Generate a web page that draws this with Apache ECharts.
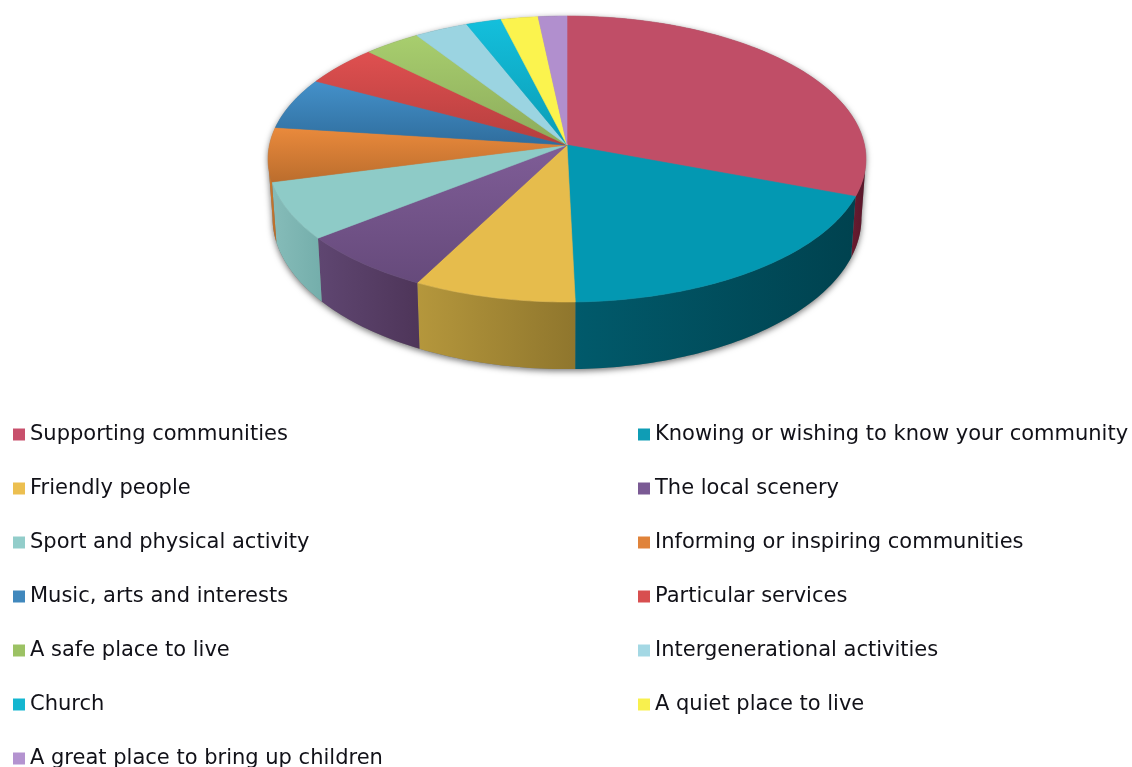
<!DOCTYPE html>
<html>
<head>
<meta charset="utf-8">
<style>html,body{margin:0;padding:0;background:#fff}#chart{width:1132px;height:767px}</style>
<script src="https://cdn.jsdelivr.net/npm/echarts@6/dist/echarts.min.js"></script>
</head>
<body>
<div id="chart"></div>
<script>
// Share of responses per theme, in percent, clockwise from twelve o'clock.
const categories = [
  'Supporting communities', 'Knowing or wishing to know your community',
  'Friendly people', 'The local scenery',
  'Sport and physical activity', 'Informing or inspiring communities',
  'Music, arts and interests', 'Particular services',
  'A safe place to live', 'Intergenerational activities',
  'Church', 'A quiet place to live',
  'A great place to bring up children'
];
const values = [30.7, 18.9, 8.0, 6.8, 6.5, 6.1, 5.8, 4.6, 3.4, 3.2, 2.1, 2.2, 1.7];

// Top face colours: upper and lower ends of each slice's vertical ramp.
const topStart = ['#c04e67', '#0398b2', '#e6bc4c', '#7f5d97', '#8ecbc7', '#ea8a3c', '#4491ca', '#df5050', '#a8ce6e', '#9bd4e1', '#14bfdc', '#fbf34e', '#b18fce'];
const topEnd   = ['#c04e67', '#0398b2', '#e6bc4c', '#664a7b', '#8ecbc7', '#bb6d2d', '#2f6d9d', '#b53e3e', '#8cab5b', '#9bd4e1', '#0a9cb5', '#fbf34e', '#b18fce'];
// Side wall colours: left and right ends of each visible wall.
const wallLeft  = ['#6a1c30', '#015a6b', '#b5973c', '#5f4671', '#86bcb9', '#cf7c30', '#2f6d9d', '#b53e3e', '#8cab5b', '#9bd4e1', '#0a9cb5', '#fbf34e', '#b18fce'];
const wallRight = ['#56162a', '#00424f', '#8f762d', '#4e3559', '#74aeab', '#b86c29', '#2f6d9d', '#b53e3e', '#8cab5b', '#9bd4e1', '#0a9cb5', '#fbf34e', '#b18fce'];
const legendColors = ['#c8506c', '#0f9db5', '#ecbf50', '#7a5a94', '#92cdca', '#e0833a', '#4088bd', '#d84f50', '#9cc264', '#a4d8e4', '#14b6d0', '#f8f04e', '#b493d0'];

// Tilted disc: perspective mapping from the unit circle to the page.
const disc = { cx: 567, cy: 145, a: 297.5, b: 141.6, k: 0.098 };
const deg = Math.PI / 180;
const wallFrom = Math.acos(-disc.k);
const wallTo = 2 * Math.PI - wallFrom;

function topPoint(theta) {
  const u = Math.sin(theta), v = -Math.cos(theta), d = 1 - disc.k * v;
  return [disc.cx + disc.a * u / d, disc.cy + disc.b * v / d];
}
function bottomPoint(theta) {
  const p = topPoint(theta), dy = p[1] - disc.cy;
  return [disc.cx + 0.985 * (p[0] - disc.cx), p[1] + 58 + 0.058 * dy];
}
function arcPoints(fn, from, to) {
  const steps = Math.max(2, Math.ceil(Math.abs(to - from) / deg));
  const out = [];
  for (let i = 0; i <= steps; i++) out.push(fn(from + (to - from) * i / steps));
  return out;
}

const total = values.reduce((s, x) => s + x, 0);
const starts = [];
values.reduce((acc, x, i) => { starts[i] = acc; return acc + x; }, 0);

function vertical(c1, c2) {
  return new echarts.graphic.LinearGradient(0, 0, 0, 1, [{ offset: 0, color: c1 }, { offset: 1, color: c2 }]);
}
function horizontal(c1, c2) {
  return new echarts.graphic.LinearGradient(0, 0, 1, 0, [{ offset: 0, color: c1 }, { offset: 1, color: c2 }]);
}

function renderSlice(i) {
  return function (params, api) {
    const a1 = starts[i] / total * 2 * Math.PI;
    const a2 = a1 + api.value(0) / total * 2 * Math.PI;
    const children = [];
    const w1 = Math.max(a1, wallFrom), w2 = Math.min(a2, wallTo);
    if (w2 > w1) {
      children.push({
        type: 'polygon',
        shape: { points: arcPoints(topPoint, w1, w2).concat(arcPoints(bottomPoint, w2, w1)) },
        style: { fill: horizontal(wallLeft[i], wallRight[i]) }
      });
    }
    const fill = vertical(topStart[i], topEnd[i]);
    children.push({
      type: 'polygon',
      shape: { points: [[disc.cx, disc.cy]].concat(arcPoints(topPoint, a1, a2)) },
      style: { fill: fill, stroke: fill, lineWidth: 0.6 }
    });
    return { type: 'group', children: children };
  };
}

// Soft drop shadow under the whole disc, painted before the slices.
function renderShadow() {
  const pts = arcPoints(bottomPoint, wallFrom, wallTo).concat(arcPoints(topPoint, wallTo, wallFrom + 2 * Math.PI));
  return {
    type: 'polygon',
    shape: { points: pts },
    style: { fill: '#777', shadowBlur: 6, shadowColor: 'rgba(0,0,0,0.55)', shadowOffsetX: 0, shadowOffsetY: 2 }
  };
}

const series = [{
  type: 'custom', name: 'rim shadow', coordinateSystem: 'none', silent: true,
  renderItem: renderShadow, data: [1], z: 1
}].concat(categories.map((name, i) => ({
  type: 'custom', name: name, coordinateSystem: 'none', silent: true,
  itemStyle: { color: legendColors[i] },
  renderItem: renderSlice(i), data: [values[i]], z: 2
})));

const legendBase = {
  orient: 'vertical', icon: 'rect', itemWidth: 12, itemHeight: 12, itemGap: 33,
  selectedMode: false, padding: 0, height: 380,
  textStyle: { fontFamily: 'DejaVu Sans', fontSize: 21, color: '#111118' }
};

const chart = echarts.init(document.getElementById('chart'), null, { renderer: 'canvas' });
chart.setOption({
  animation: false,
  backgroundColor: '#ffffff',
  legend: [
    Object.assign({}, legendBase, { left: 13, top: 424, data: categories.filter((_, i) => i % 2 === 0) }),
    Object.assign({}, legendBase, { left: 638, top: 424, data: categories.filter((_, i) => i % 2 === 1) })
  ],
  series: series
});
</script>
</body>
</html>
